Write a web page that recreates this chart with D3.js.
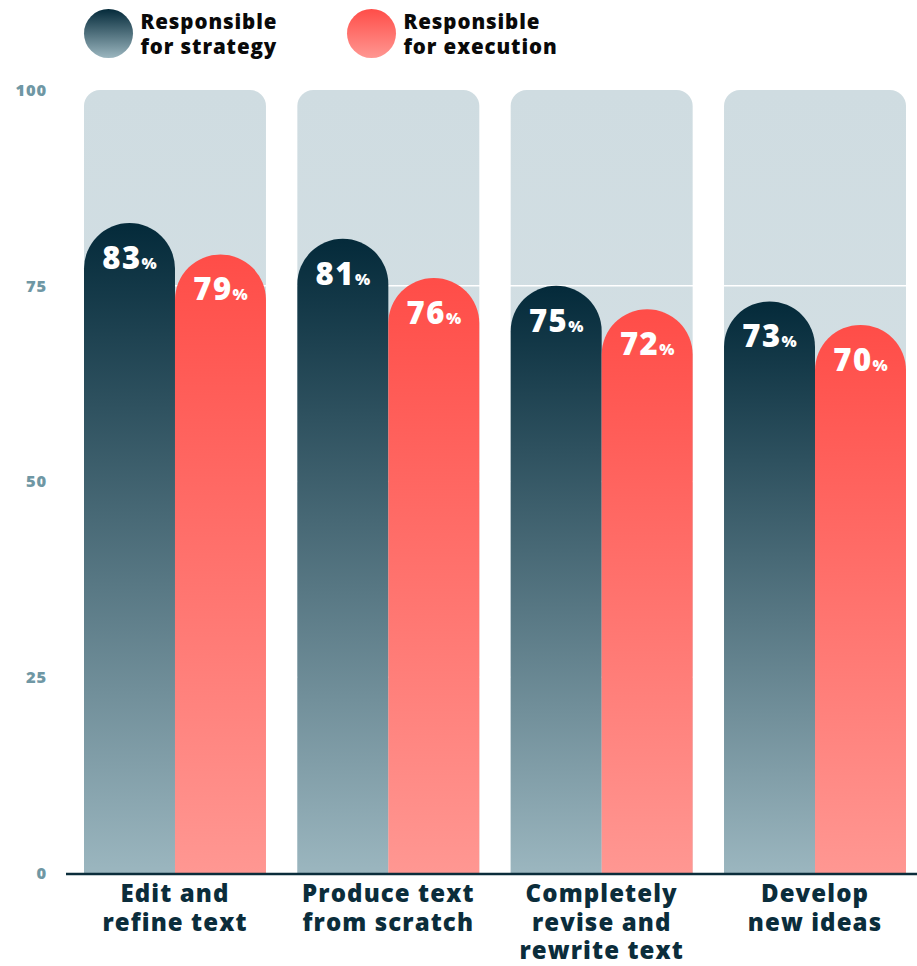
<!DOCTYPE html>
<html>
<head>
<meta charset="utf-8">
<script src="https://cdn.jsdelivr.net/npm/d3@7"></script>
<style>
  body { margin: 0; background: #fff; }
  svg { display: block; font-family: "Open Sans", sans-serif; }
</style>
</head>
<body>
<div id="chart"></div>
<script>

var categories = [
  ['Edit and', 'refine text'],
  ['Produce text', 'from scratch'],
  ['Completely', 'revise and', 'rewrite text'],
  ['Develop', 'new ideas']
];
var seriesNames = ['Responsible for strategy', 'Responsible for execution'];
var legendLines = [['Responsible', 'for strategy'], ['Responsible', 'for execution']];
var strategy = [83, 81, 75, 73];
var execution = [79, 76, 72, 70];
var yTicks = [0, 25, 50, 75, 100];

var width = 917, height = 966;

var svg = d3.select('#chart').append('svg')
    .attr('width', width)
    .attr('height', height);

var defs = svg.append('defs');

function grad(id, top, bottom) {
  var g = defs.append('linearGradient')
      .attr('id', id)
      .attr('x1', 0).attr('y1', 0).attr('x2', 0).attr('y2', 1);
  g.append('stop').attr('offset', '0%').attr('stop-color', top);
  g.append('stop').attr('offset', '100%').attr('stop-color', bottom);
}
grad('g-strategy', '#042a3a', '#9bb6bf');
grad('g-execution', '#ff4d48', '#ff9792');
grad('g-panel', '#cfdce1', '#d8e3e7');

var colors = ['url(#g-strategy)', 'url(#g-execution)'];

var y = d3.scaleLinear()
    .domain([0, 100])
    .range([873, 90]);

var x0 = d3.scaleBand()
    .domain(d3.range(categories.length))
    .range([84, 906])
    .paddingInner(0.147)
    .paddingOuter(0);

var x1 = d3.scaleBand()
    .domain([0, 1])
    .range([0, x0.bandwidth()]);

// background panels with rounded top corners
var pr = 16;
svg.append('g').selectAll('path')
  .data(categories).enter()
  .append('path')
    .attr('fill', 'url(#g-panel)')
    .attr('d', function (d, i) {
      var x = x0(i), w = x0.bandwidth(), t = y(100), b = y(0);
      return 'M' + x + ',' + b + 'V' + (t + pr) +
        'A' + pr + ',' + pr + ' 0 0 1 ' + (x + pr) + ',' + t +
        'H' + (x + w - pr) +
        'A' + pr + ',' + pr + ' 0 0 1 ' + (x + w) + ',' + (t + pr) +
        'V' + b + 'Z';
    });

// white gridlines
svg.append('g').selectAll('line')
  .data(yTicks.filter(function (d) { return d > 0 && d < 100; })).enter()
  .append('line')
    .attr('x1', 70).attr('x2', width)
    .attr('y1', function (d) { return y(d); })
    .attr('y2', function (d) { return y(d); })
    .attr('stroke', '#fff')
    .attr('stroke-width', 1.5);

// y labels
svg.append('g').selectAll('text')
  .data(yTicks).enter()
  .append('text')
    .attr('x', 47)
    .attr('y', function (d) { return y(d); })
    .attr('dy', '0.36em')
    .attr('text-anchor', 'end')
    .attr('fill', '#6f97a4')
    .attr('font-size', 16.5)
    .attr('font-weight', 800)
    .attr('letter-spacing', 0.8)
    .text(String);

// bars with rounded (semicircle) top
var rows = categories.map(function (c, i) {
  return [
    { cat: i, s: 0, value: strategy[i] },
    { cat: i, s: 1, value: execution[i] }
  ];
});

var groups = svg.append('g').selectAll('g')
  .data(rows).enter()
  .append('g')
    .attr('transform', function (d, i) { return 'translate(' + x0(i) + ',0)'; });

groups.selectAll('path')
  .data(function (d) { return d; }).enter()
  .append('path')
    .attr('fill', function (d) { return colors[d.s]; })
    .attr('d', function (d) {
      var x = x1(d.s), w = x1.bandwidth(), r = w / 2, t = y(d.value), b = y(0);
      return 'M' + x + ',' + b + 'V' + (t + r) +
        'A' + r + ',' + r + ' 0 0 1 ' + (x + w) + ',' + (t + r) +
        'V' + b + 'Z';
    });

var labels = groups.selectAll('text')
  .data(function (d) { return d; }).enter()
  .append('text')
    .attr('x', function (d) { return x1(d.s) + x1.bandwidth() / 2; })
    .attr('y', function (d) { return y(d.value) + 46; })
    .attr('text-anchor', 'middle')
    .attr('fill', '#fff')
    .attr('font-weight', 800);

labels.append('tspan')
    .attr('font-size', 31)
    .attr('letter-spacing', 1.5)
    .text(function (d) { return d.value; });
labels.append('tspan')
    .attr('font-size', 16)
    .text('%');

// baseline
svg.append('line')
    .attr('x1', 66).attr('x2', width)
    .attr('y1', y(0) + 1).attr('y2', y(0) + 1)
    .attr('stroke', '#0b2d3b')
    .attr('stroke-width', 2.5);

// category labels
svg.append('g').selectAll('text')
  .data(categories).enter()
  .append('text')
    .attr('x', function (d, i) { return x0(i) + x0.bandwidth() / 2; })
    .attr('y', 902)
    .attr('text-anchor', 'middle')
    .attr('fill', '#0b2d3b')
    .attr('font-size', 24)
    .attr('font-weight', 800)
    .attr('letter-spacing', 1.1)
  .selectAll('tspan')
    .data(function (d) { return d; }).enter()
    .append('tspan')
    .attr('x', function () { return this.parentNode.getAttribute('x'); })
    .attr('dy', function (d, i) { return i ? 28.5 : 0; })
    .text(String);

// legend
var legend = svg.append('g').selectAll('g')
  .data(seriesNames).enter()
  .append('g')
    .attr('transform', function (d, i) { return 'translate(' + [108.5, 371.5][i] + ',33.5)'; });

legend.append('circle')
    .attr('r', 24.5)
    .attr('fill', function (d, i) { return colors[i]; });

legend.append('text')
    .attr('x', 32)
    .attr('y', -4.5)
    .attr('fill', '#0a0a0a')
    .attr('font-size', 20.5)
    .attr('font-weight', 800)
    .attr('letter-spacing', 0.9)
  .selectAll('tspan')
    .data(function (d, i) { return legendLines[i]; }).enter()
    .append('tspan')
    .attr('x', 32)
    .attr('dy', function (d, i) { return i ? 24.5 : 0; })
    .text(String);

</script>
</body>
</html>
